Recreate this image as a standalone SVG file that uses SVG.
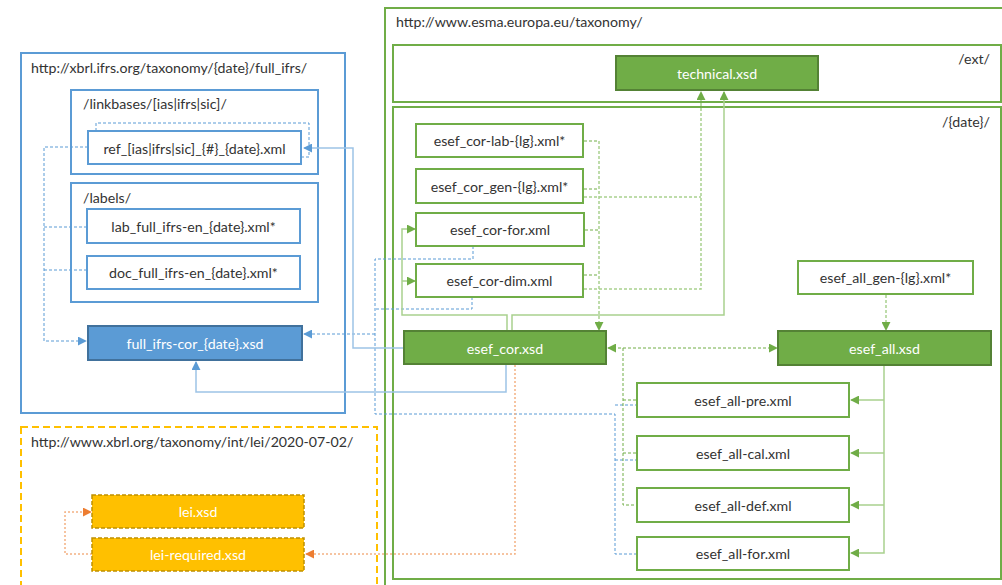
<svg xmlns="http://www.w3.org/2000/svg" width="1002" height="585" viewBox="0 0 1002 585">
<style>
.t{font-family:Lato,"Open Sans","Liberation Sans",sans-serif;font-size:14.2px;fill:#333}
.c{text-anchor:middle;dominant-baseline:central}
.e{text-anchor:end}
.w{fill:#fff}
.gbox{fill:#fff;stroke:#70AD47;stroke-width:2}
.gfill{fill:#70AD47;stroke:#548235;stroke-width:2}
.bbox{fill:#fff;stroke:#5B9BD5;stroke-width:2}
.bfill{fill:#5B9BD5;stroke:#41719C;stroke-width:2}
.ofill{fill:#FFC000;stroke:#BF9000;stroke-width:1.5;stroke-dasharray:4 2}
.gcont{fill:none;stroke:#70AD47;stroke-width:2}
.bcont{fill:none;stroke:#5B9BD5;stroke-width:2}
.ocont{fill:none;stroke:#FFC000;stroke-width:2;stroke-dasharray:7 4}
.bd{fill:none;stroke:#5B9BD5;stroke-width:1;stroke-dasharray:3 2}
.bs{fill:none;stroke:#9DC3E6;stroke-width:1.5}
.gs{fill:none;stroke:#A9D18E;stroke-width:1.5}
.gd{fill:none;stroke:#70AD47;stroke-width:1;stroke-dasharray:3 2}
.gl{fill:none;stroke:#A9D18E;stroke-width:1.5;stroke-dasharray:3 2}
.od{fill:none;stroke:#F4B183;stroke-width:1.5;stroke-dasharray:2 2}
</style>
<defs>
<marker id="ab" viewBox="0 0 10 10" refX="9" refY="5" markerWidth="9" markerHeight="9" markerUnits="userSpaceOnUse" orient="auto-start-reverse"><path d="M0,0 L10,5 L0,10 z" fill="#5B9BD5"/></marker>
<marker id="ag" viewBox="0 0 10 10" refX="9" refY="5" markerWidth="9" markerHeight="9" markerUnits="userSpaceOnUse" orient="auto-start-reverse"><path d="M0,0 L10,5 L0,10 z" fill="#70AD47"/></marker>
<marker id="ao" viewBox="0 0 10 10" refX="9" refY="5" markerWidth="9" markerHeight="9" markerUnits="userSpaceOnUse" orient="auto-start-reverse"><path d="M0,0 L10,5 L0,10 z" fill="#ED7D31"/></marker>
</defs>
<rect width="1002" height="585" fill="#fff"/>

<g id="containers">
<g id="ifrs-container">
<rect class="bcont" x="21" y="53" width="324" height="360"/>
<text class="t" x="31" y="73">http://xbrl.ifrs.org/taxonomy/{date}/full_ifrs/</text>
<rect class="bcont" x="71" y="90" width="247" height="84"/>
<text class="t" x="83" y="109">/linkbases/[ias|ifrs|sic]/</text>
<rect class="bcont" x="71" y="183" width="247" height="119"/>
<text class="t" x="83" y="203">/labels/</text>
</g>
<g id="lei-container">
<rect class="ocont" x="21" y="427" width="356" height="170"/>
<text class="t" x="31" y="447">http://www.xbrl.org/taxonomy/int/lei/2020-07-02/</text>
</g>
<g id="esma-container">
<rect class="gcont" x="385" y="8" width="630" height="590"/>
<text class="t" x="396" y="27">http://www.esma.europa.eu/taxonomy/</text>
<rect class="gcont" x="393" y="45" width="608" height="57"/>
<text class="t e" x="990" y="64">/ext/</text>
<rect class="gcont" x="393" y="107" width="608" height="472"/>
<text class="t e" x="990" y="127">/{date}/</text>
</g>
</g>

<g id="connectors">
<path class="bd" d="M88,147 H44 V341 H86" marker-end="url(#ab)"/>
<path class="bd" d="M87,227 H44"/>
<path class="bd" d="M87,270 H44"/>
<path class="bd" d="M96,131 V123 H309 V157 H302"/>
<path class="bd" d="M473,246 V259 H375 V414 H615 V554 H637"/>
<path class="bd" d="M472,297 V309 H375"/>
<path class="bd" d="M375,334 H304" marker-end="url(#ab)"/>
<path class="bd" d="M615,405 H637"/>
<path class="bd" d="M615,460 H637"/>
<path class="bs" d="M404,348 H353 V148 H304" marker-end="url(#ab)"/>
<path class="bs" d="M506,365 V392 H196 V362" marker-end="url(#ab)"/>
<path class="gs" d="M507,331 V315 H402 V229 H415" marker-end="url(#ag)"/>
<path class="gs" d="M402,281 H415" marker-end="url(#ag)"/>
<path class="gs" d="M512,331 V315 H724 V92" marker-end="url(#ag)"/>
<path class="gs" d="M884,366 V553 H851" marker-end="url(#ag)"/>
<path class="gs" d="M884,400 H851" marker-end="url(#ag)"/>
<path class="gs" d="M884,453 H851" marker-end="url(#ag)"/>
<path class="gs" d="M884,505 H851" marker-end="url(#ag)"/>
<path class="gd" d="M584,141 H599"/>
<path class="gd" d="M584,189 H599"/>
<path class="gd" d="M585,230 H599"/>
<path class="gd" d="M584,275 H599"/>
<path class="gl" d="M599,141 V330" marker-end="url(#ag)"/>
<path class="gl" d="M584,197 H701"/>
<path class="gl" d="M584,289 H701 V92" marker-end="url(#ag)"/>
<path class="gd" d="M608,348 H777" marker-start="url(#ag)" marker-end="url(#ag)"/>
<path class="gd" d="M623,348 V505 H637"/>
<path class="gd" d="M623,400 H637"/>
<path class="gd" d="M623,453 H637"/>
<path class="gl" d="M886,295 V330" marker-end="url(#ag)"/>
<path class="od" d="M515,365 V554 H306" marker-end="url(#ao)"/>
<path class="od" d="M92,554 H65 V512 H91" marker-end="url(#ao)"/>
</g>

<g id="ref"><rect class="bbox" x="88" y="131" width="213" height="33"/><text class="t c" x="194.5" y="148">ref_[ias|ifrs|sic]_{#}_{date}.xml</text></g>
<g id="lab"><rect class="bbox" x="87" y="209" width="213" height="34"/><text class="t c" x="193.5" y="226">lab_full_ifrs-en_{date}.xml*</text></g>
<g id="doc"><rect class="bbox" x="87" y="256" width="213" height="33"/><text class="t c" x="193.5" y="272.5">doc_full_ifrs-en_{date}.xml*</text></g>
<g id="full-ifrs-cor"><rect class="bfill" x="88" y="326" width="214" height="34"/><text class="t c w" x="195" y="343">full_ifrs-cor_{date}.xsd</text></g>

<g id="lei"><rect class="ofill" x="92" y="495" width="212" height="33"/><text class="t c w" x="198" y="511.5">lei.xsd</text></g>
<g id="lei-required"><rect class="ofill" x="92" y="538" width="212" height="33"/><text class="t c w" x="198" y="554.5">lei-required.xsd</text></g>

<g id="technical"><rect class="gfill" x="616" y="56" width="202" height="34"/><text class="t c w" x="717" y="73">technical.xsd</text></g>
<g id="esef-cor-lab"><rect class="gbox" x="416" y="124" width="167" height="33"/><text class="t c" x="499.5" y="140.5">esef_cor-lab-{lg}.xml*</text></g>
<g id="esef-cor-gen"><rect class="gbox" x="416" y="169" width="167" height="34"/><text class="t c" x="499.5" y="186">esef_cor_gen-{lg}.xml*</text></g>
<g id="esef-cor-for"><rect class="gbox" x="416" y="213" width="168" height="33"/><text class="t c" x="500" y="229.5">esef_cor-for.xml</text></g>
<g id="esef-cor-dim"><rect class="gbox" x="416" y="264" width="167" height="33"/><text class="t c" x="499.5" y="280.5">esef_cor-dim.xml</text></g>
<g id="esef-cor"><rect class="gfill" x="404" y="331" width="202" height="33"/><text class="t c w" x="505" y="348">esef_cor.xsd</text></g>
<g id="esef-all-gen"><rect class="gbox" x="798" y="261" width="175" height="33"/><text class="t c" x="885.5" y="277.5">esef_all_gen-{lg}.xml*</text></g>
<g id="esef-all"><rect class="gfill" x="778" y="331" width="213" height="34"/><text class="t c w" x="884.5" y="348">esef_all.xsd</text></g>
<g id="esef-all-pre"><rect class="gbox" x="637" y="383" width="212" height="34"/><text class="t c" x="743" y="400">esef_all-pre.xml</text></g>
<g id="esef-all-cal"><rect class="gbox" x="637" y="436" width="212" height="34"/><text class="t c" x="743" y="453">esef_all-cal.xml</text></g>
<g id="esef-all-def"><rect class="gbox" x="637" y="488" width="212" height="34"/><text class="t c" x="743" y="505">esef_all-def.xml</text></g>
<g id="esef-all-for"><rect class="gbox" x="637" y="537" width="212" height="33"/><text class="t c" x="743" y="553.5">esef_all-for.xml</text></g>
</svg>
